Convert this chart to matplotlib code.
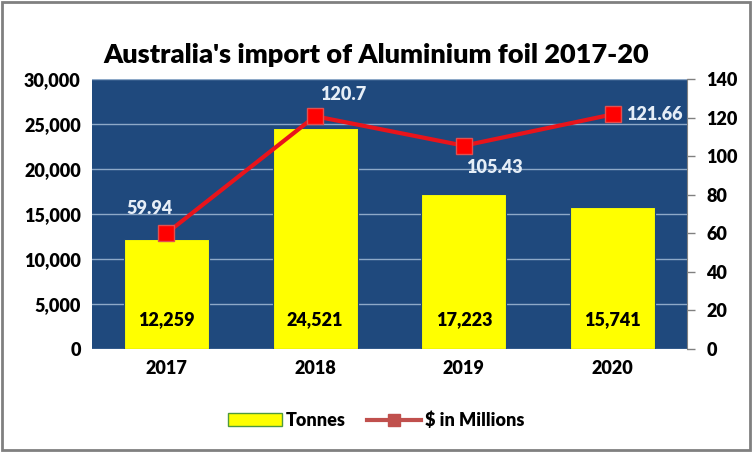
import matplotlib
matplotlib.use("Agg")
from matplotlib import pyplot as plt
from matplotlib.patches import Rectangle

years = ["2017", "2018", "2019", "2020"]
tonnes = [12259, 24521, 17223, 15741]
millions = [59.94, 120.7, 105.43, 121.66]
tonnes_labels = ["12,259", "24,521", "17,223", "15,741"]
millions_labels = ["59.94", "120.7", "105.43", "121.66"]

plt.rcParams["font.family"] = ["Lato", "DejaVu Sans"]
plt.rcParams["font.weight"] = "bold"
W = "heavy"

fig = plt.figure(figsize=(7.52, 4.53), dpi=100)
ax = fig.add_axes([0.1223, 0.2296, 0.7913, 0.596])
ax.set_facecolor("#1F497D")

x = list(range(len(years)))
bars = ax.bar(x, tonnes, width=0.57, color="#FFFF00", edgecolor="#1F497D",
              linewidth=0.8, label="Tonnes", zorder=3)
ax.set_xlim(-0.5, 3.5)
ax.set_ylim(0, 30000)
ax.set_yticks(range(0, 30001, 5000))
ax.set_yticklabels([f"{v:,}" for v in range(0, 30001, 5000)], fontweight=W)
ax.set_xticks(x)
ax.set_xticklabels(years, fontweight=W)
ax.grid(axis="y", color="#8EA9C8", linewidth=1, zorder=1)
ax.tick_params(length=0, labelsize=13, pad=8)
for s in ax.spines.values():
    s.set_visible(False)

for i, t in enumerate(tonnes_labels):
    ax.text(x[i], 3300, t, ha="center", va="center", fontsize=13,
            fontweight=W, color="black", zorder=5)

ax2 = ax.twinx()
ax2.set_ylim(0, 140)
ax2.set_yticks(range(0, 141, 20))
ax2.set_yticklabels([str(v) for v in range(0, 141, 20)], fontweight=W)
ax2.plot(x, millions, color="#E8141B", linewidth=3, marker="s", markersize=11,
         markerfacecolor="#FF0000", markeredgecolor="#E05050", zorder=4)
ax2.tick_params(axis="y", length=6, width=1, color="#808080", labelsize=13, pad=8)
for s in ax2.spines.values():
    s.set_visible(False)
ax2.spines["right"].set_visible(True)
ax2.spines["right"].set_color("#808080")

offsets = [(-12, 18), (20, 16), (22, -16), (30, 0)]
for i, lab in enumerate(millions_labels):
    ax2.annotate(lab, (x[i], millions[i]), xytext=offsets[i], textcoords="offset points",
                 ha="center", va="center", fontsize=13, fontweight=W,
                 color="#E6EEF7", zorder=6)

fig.suptitle("Australia's import of Aluminium foil 2017-20", y=0.905,
             fontsize=19.5, fontweight=W)

line_handle = plt.Line2D([], [], color="#C0504D", linewidth=3, marker="s",
                         markersize=9, markerfacecolor="#C0504D")
bar_handle = Rectangle((0, 0), 1, 1, facecolor="#FFFF00", edgecolor="#4F9A3F")
fig.legend([bar_handle, line_handle], ["Tonnes", "$ in Millions"], loc="center",
           bbox_to_anchor=(0.5, 0.072), ncol=2, frameon=False,
           prop={"size": 13, "weight": W},
           handlelength=3, columnspacing=1.2, handletextpad=0.2)

fig.patches.append(Rectangle((0.002, 0.006), 0.996, 0.99, transform=fig.transFigure,
                             fill=False, edgecolor="#808080", linewidth=2))

plt.savefig("out.png", dpi=100)
